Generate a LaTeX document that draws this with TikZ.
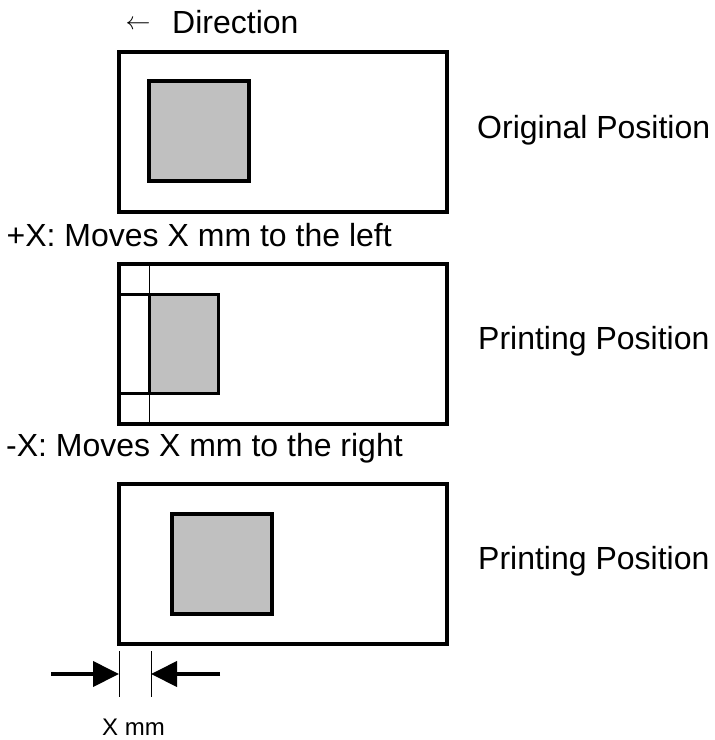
\documentclass[tikz,border=0pt]{standalone}
\usepackage{fontspec}
\setmainfont{Liberation Sans}
\usetikzlibrary{arrows.meta}
\definecolor{boxgray}{HTML}{C0C0C0}
\begin{document}
\begin{tikzpicture}[x=1pt,y=-1pt,
  outerbox/.style={draw=black,line width=4pt,fill=white,inner sep=0pt,minimum width=328pt,minimum height=160pt},
  innerbox/.style={draw=black,line width=3.5pt,fill=boxgray},
  whitebox/.style={draw=black,line width=3.5pt,fill=white},
  thinline/.style={draw=black,line width=1pt},
  dimarrow/.style={draw=black,line width=4pt,-{Triangle[length=26pt,width=25pt]}},
  lbl/.style={inner sep=0pt,font=\fontsize{32}{36}\selectfont},
  small/.style={inner sep=0pt,font=\fontsize{24}{28}\selectfont}]
\useasboundingbox (0,0) rectangle (715,740);

% Direction
\node[inner sep=0pt,font=\fontsize{37}{40}\selectfont,anchor=center] (arr) at (138,25) {$\leftarrow$};
\node[lbl,anchor=base west] (dir) at (172,33) {Direction};

% Panel 1
\node[outerbox] (p1) at (283,132) {};
\draw[innerbox] (149,81) rectangle (249,181);
\node[lbl,anchor=base west] (t1) at (477,138) {Original Position};

% Label +X
\node[lbl,anchor=base west] (lx1) at (6.5,246) {+X: Moves X mm to the left};

% Panel 2
\node[outerbox] (p2) at (283,343.5) {};
\coordinate (l2t) at (149.3,264);
\coordinate (l2b) at (149.3,423);
\draw[thinline] (l2t) -- (l2b);
\draw[whitebox] (119,294.3) rectangle (149.3,393.3);
\draw[innerbox] (149.3,294.3) rectangle (218.5,393.3);
\node[lbl,anchor=base west] (t2) at (478,349) {Printing Position};

% Label -X
\node[lbl,anchor=base west] (lx2) at (6,456) {-X: Moves X mm to the right};

% Panel 3
\node[outerbox] (p3) at (283,563.5) {};
\draw[innerbox] (172,514) rectangle (272,614);
\node[lbl,anchor=base west] (t3) at (478,569) {Printing Position};

% Dimension
\coordinate (e1t) at (119,651);
\coordinate (e1b) at (119,697);
\coordinate (e1m) at (119,674);
\coordinate (e2t) at (151,651);
\coordinate (e2b) at (151,697);
\coordinate (e2m) at (151,674);
\coordinate (a1) at (51,674);
\coordinate (a2) at (220,674);
\draw[thinline] (e1t) -- (e1b);
\draw[thinline] (e2t) -- (e2b);
\draw[dimarrow] (a1) -- (e1m);
\draw[dimarrow] (a2) -- (e2m);
\node[small,anchor=base] (xmm) at (133.5,735) {X mm};
\end{tikzpicture}
\end{document}
